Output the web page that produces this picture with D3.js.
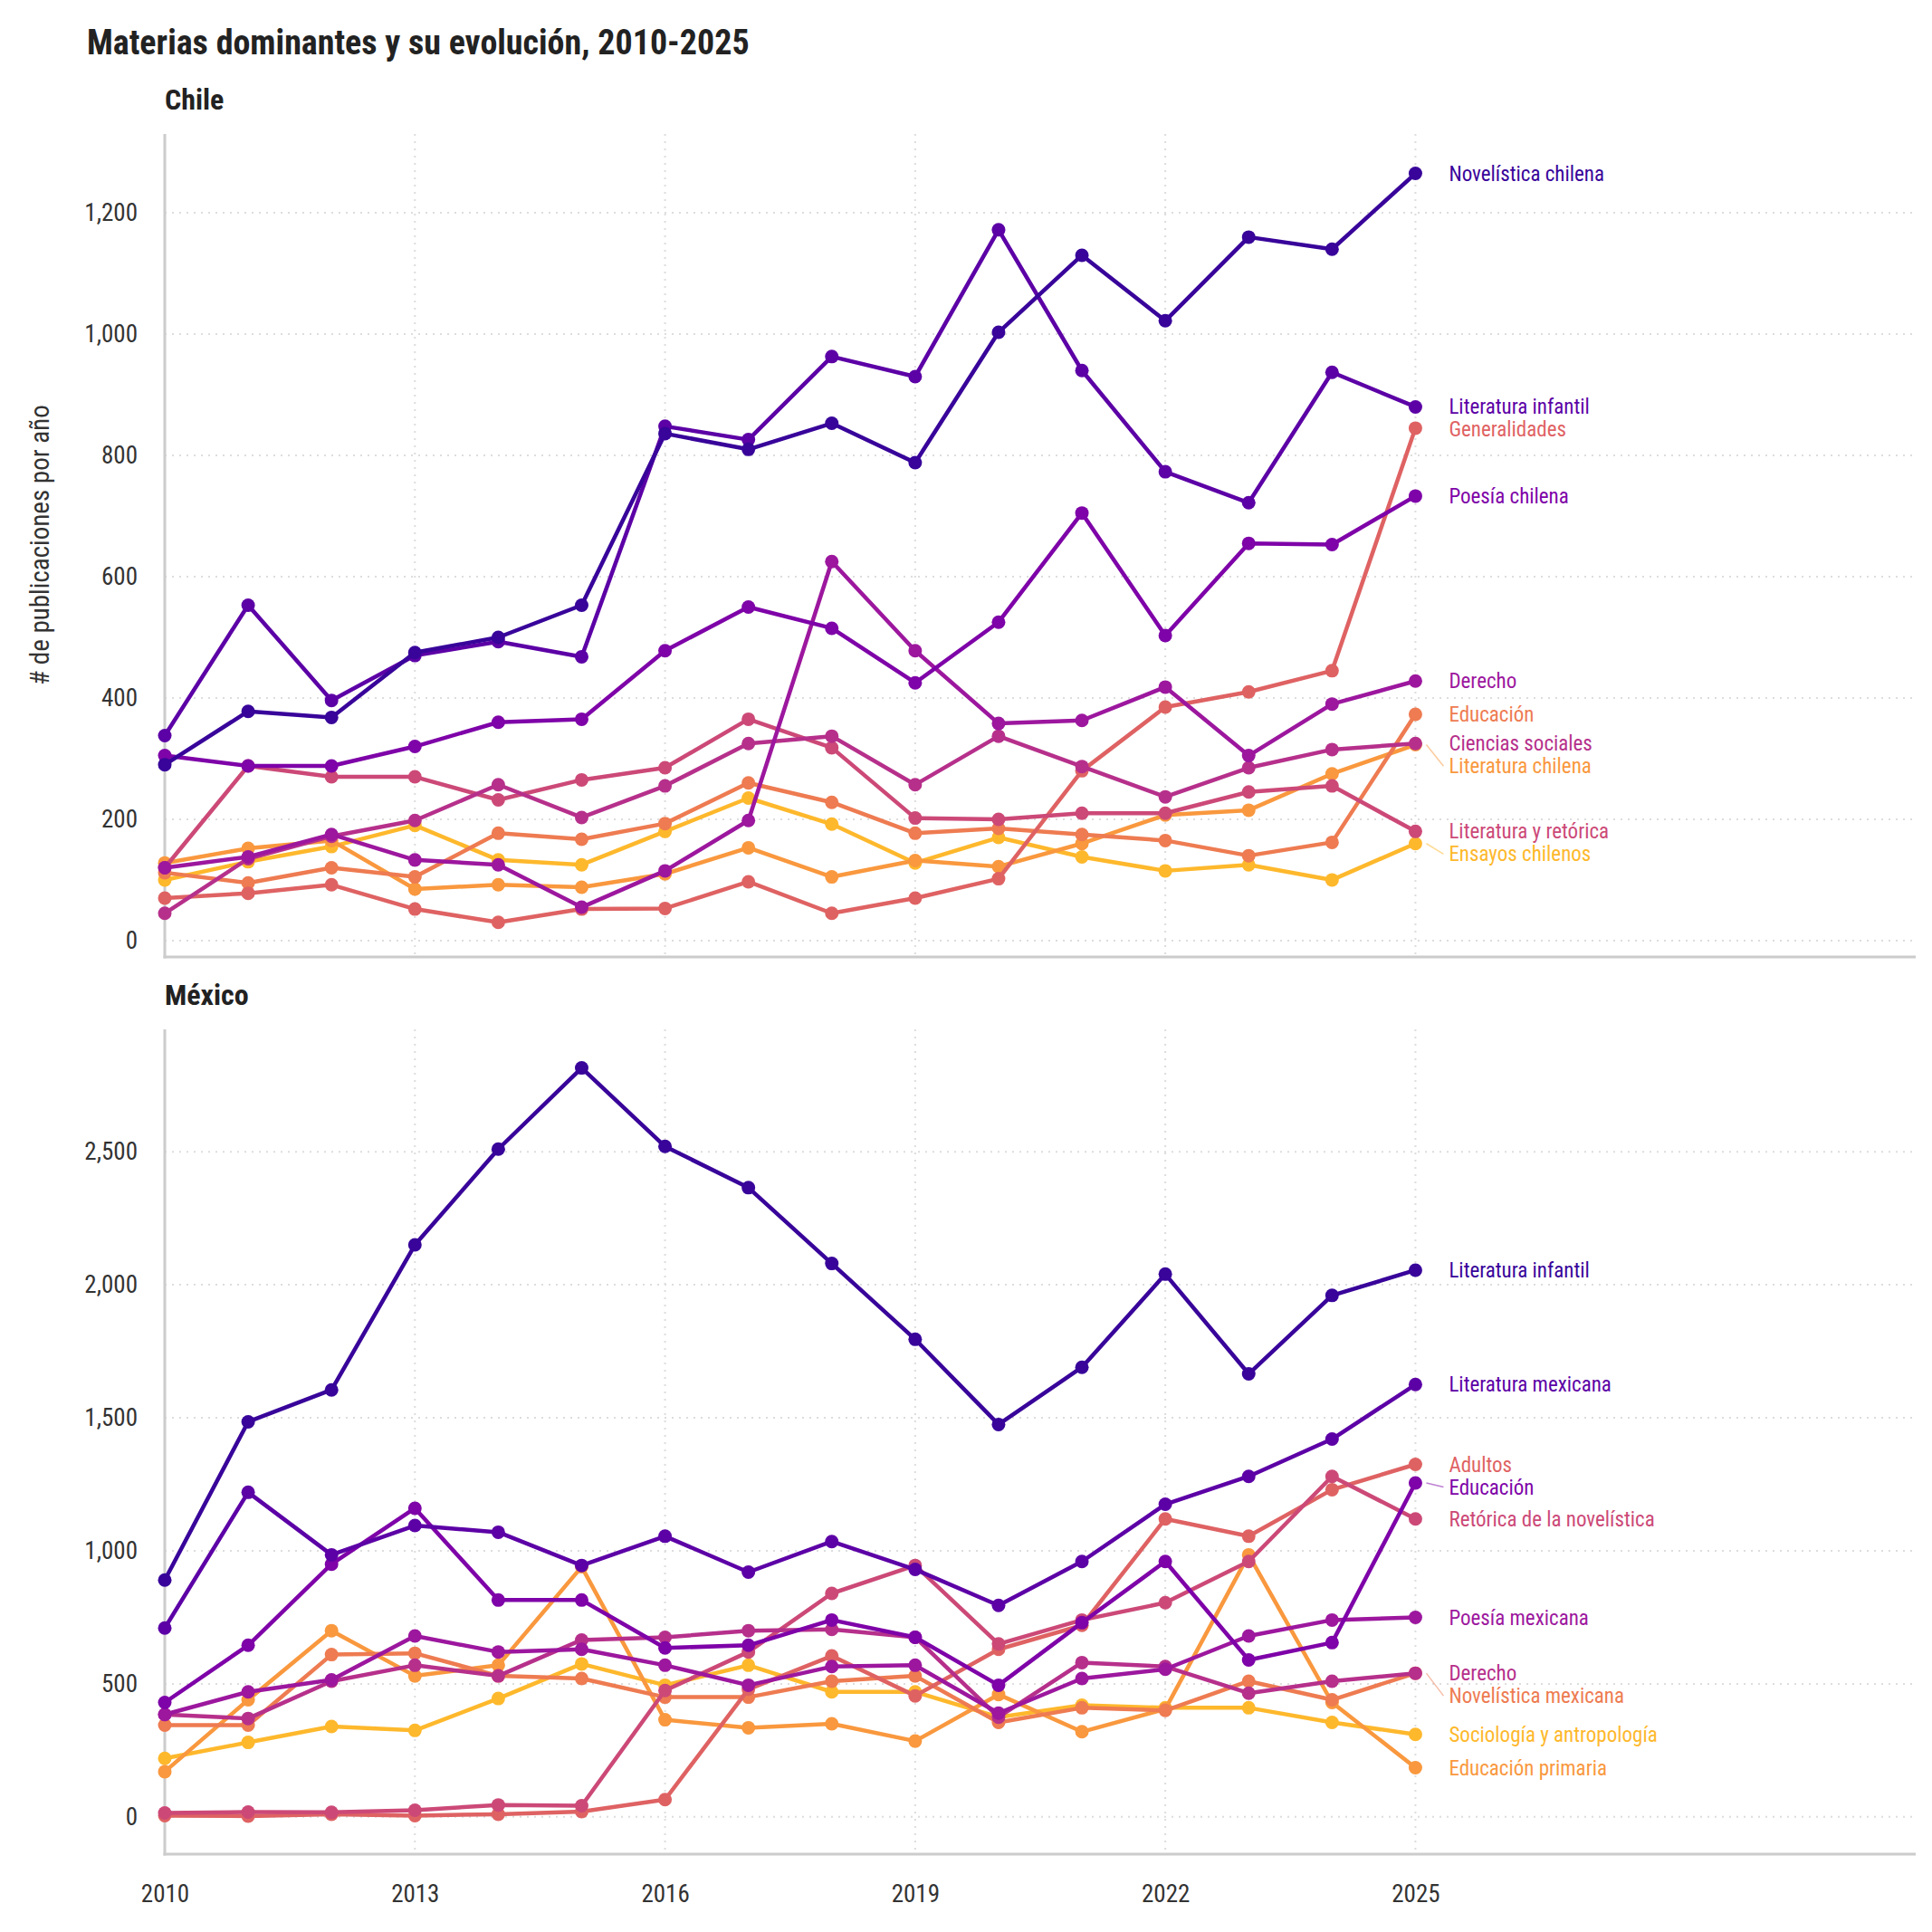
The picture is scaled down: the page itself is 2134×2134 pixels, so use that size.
<!DOCTYPE html>
<html>
<head>
<meta charset="utf-8">
<script src="https://cdn.jsdelivr.net/npm/d3@7"></script>
<style>
  body { margin: 0; background: #fff; }
  text { font-family: "Roboto Condensed", "Liberation Sans Narrow", "DejaVu Sans Condensed", "Roboto", sans-serif; }
</style>
</head>
<body>
<svg id="chart"></svg>
<script>
var W = 2134, H = 2134
var years = d3.range(2010, 2026)

// Chile
var chileNames = ["Novelística chilena", "Literatura infantil", "Poesía chilena", "Derecho", "Ciencias sociales",
  "Literatura y retórica", "Generalidades", "Educación", "Literatura chilena", "Ensayos chilenos"]
var chNovelistica = [290, 378, 368, 475, 500, 553, 836, 810, 853, 788, 1003, 1130, 1022, 1160, 1140, 1265]
var chLitInfantil = [338, 553, 396, 470, 493, 468, 848, 826, 963, 930, 1172, 940, 773, 722, 937, 880]
var chPoesia = [305, 288, 288, 320, 360, 365, 478, 550, 515, 425, 525, 705, 503, 655, 653, 733]
var chDerecho = [120, 138, 175, 133, 125, 55, 115, 198, 625, 478, 358, 363, 418, 305, 390, 428]
var chCiencias = [45, 135, 172, 198, 257, 203, 255, 325, 337, 257, 337, 287, 237, 285, 315, 325]
var chLitRetorica = [120, 288, 270, 270, 232, 265, 285, 365, 318, 202, 200, 210, 210, 245, 255, 180]
var chGeneralidades = [70, 78, 92, 52, 30, 52, 53, 97, 45, 70, 102, 280, 385, 410, 445, 845]
var chEducacion = [112, 95, 120, 105, 177, 167, 193, 260, 228, 177, 185, 175, 165, 140, 162, 373]
var chLitChilena = [128, 152, 165, 85, 92, 88, 110, 153, 105, 132, 122, 160, 207, 215, 275, 323]
var chEnsayos = [100, 130, 155, 190, 133, 125, 180, 235, 192, 128, 170, 138, 115, 125, 100, 160]
var chileValues = [chNovelistica, chLitInfantil, chPoesia, chDerecho, chCiencias, chLitRetorica,
  chGeneralidades, chEducacion, chLitChilena, chEnsayos]

// México
var mexNames = ["Literatura infantil", "Literatura mexicana", "Educación", "Poesía mexicana", "Derecho",
  "Retórica de la novelística", "Adultos", "Novelística mexicana", "Educación primaria", "Sociología y antropología"]
var mxLitInfantil = [890, 1485, 1605, 2150, 2510, 2815, 2520, 2365, 2080, 1795, 1475, 1690, 2040, 1665, 1960, 2055]
var mxLitMexicana = [710, 1220, 985, 1095, 1070, 945, 1055, 920, 1035, 930, 795, 960, 1175, 1280, 1420, 1625]
var mxEducacion = [430, 645, 950, 1160, 815, 815, 635, 645, 740, 675, 495, 730, 960, 590, 655, 1255]
var mxPoesia = [385, 470, 515, 680, 620, 630, 570, 495, 565, 570, 390, 520, 555, 680, 740, 750]
var mxDerecho = [385, 370, 510, 570, 530, 665, 675, 700, 705, 675, 375, 580, 565, 465, 510, 540]
var mxRetorica = [15, 18, 17, 25, 45, 42, 475, 620, 840, 945, 650, 740, 805, 960, 1280, 1120]
var mxAdultos = [5, 3, 10, 5, 10, 20, 65, 480, 605, 455, 630, 720, 1120, 1055, 1230, 1325]
var mxNovelistica = [345, 345, 610, 615, 530, 520, 450, 450, 510, 530, 355, 410, 400, 510, 440, 540]
var mxEdPrimaria = [170, 440, 700, 530, 570, 940, 365, 335, 350, 285, 460, 320, 405, 985, 430, 185]
var mxSociologia = [220, 280, 340, 325, 445, 575, 495, 570, 470, 470, 375, 420, 410, 410, 355, 310]
var mexValues = [mxLitInfantil, mxLitMexicana, mxEducacion, mxPoesia, mxDerecho, mxRetorica,
  mxAdultos, mxNovelistica, mxEdPrimaria, mxSociologia]

var chileTicks = [0, 200, 400, 600, 800, 1000, 1200]
var mexTicks = [0, 500, 1000, 1500, 2000, 2500]
var xTicks = [2010, 2013, 2016, 2019, 2022, 2025]

var color = function(i) { return d3.interpolatePlasma(0.08 + i * 0.085) }

var svg = d3.select("#chart").attr("width", W).attr("height", H)

svg.append("text").attr("x", 96).attr("y", 60)
  .attr("font-size", 38).attr("font-weight", "bold").attr("fill", "#222")
  .text("Materias dominantes y su evolución, 2010-2025")

var x = d3.scaleLinear().domain([2010, 2031]).range([182, 2116])

function panel(title, names, values, top, bottom, domain, ticks, showX) {
  var y = d3.scaleLinear().domain(domain).range([bottom, top])
  var g = svg.append("g")

  g.append("text").attr("x", 182).attr("y", top - 27)
    .attr("font-size", 32).attr("font-weight", "bold").attr("fill", "#222").text(title)

  // grid
  g.selectAll(".gy").data(ticks).enter().append("line")
    .attr("x1", 182).attr("x2", 2116).attr("y1", d => y(d)).attr("y2", d => y(d))
    .attr("stroke", "#ddd").attr("stroke-width", 2).attr("stroke-dasharray", "2,6")
  g.selectAll(".gx").data(xTicks).enter().append("line")
    .attr("x1", d => x(d)).attr("x2", d => x(d)).attr("y1", top).attr("y2", bottom)
    .attr("stroke", "#ddd").attr("stroke-width", 2).attr("stroke-dasharray", "2,6")

  var yAxis = g.append("g").attr("transform", "translate(182,0)")
    .call(d3.axisLeft(y).tickValues(ticks).tickSize(0).tickPadding(30))
  yAxis.select(".domain").remove()
  yAxis.selectAll("text").attr("font-size", 27).attr("fill", "#333")

  if (showX) {
    var xAxis = g.append("g").attr("transform", "translate(0," + bottom + ")")
      .call(d3.axisBottom(x).tickValues(xTicks).tickFormat(d3.format("d")).tickSize(0).tickPadding(34))
    xAxis.select(".domain").remove()
    xAxis.selectAll("text").attr("font-size", 27).attr("fill", "#333")
  }

  g.append("line").attr("x1", 182).attr("x2", 182).attr("y1", top).attr("y2", bottom + 1.5)
    .attr("stroke", "#ccc").attr("stroke-width", 3)
  g.append("line").attr("x1", 180.5).attr("x2", 2116).attr("y1", bottom).attr("y2", bottom)
    .attr("stroke", "#ccc").attr("stroke-width", 3)

  var line = d3.line().x((d, i) => x(years[i])).y(d => y(d))

  // draw lightest first so dark lines sit on top like the reference
  for (var s = values.length - 1; s >= 0; s--) {
    var c = color(s)
    g.append("path").attr("d", line(values[s])).attr("fill", "none")
      .attr("stroke", c).attr("stroke-width", 4.5).attr("stroke-linejoin", "round")
    g.selectAll(".p" + s).data(values[s]).enter().append("circle")
      .attr("cx", (d, i) => x(years[i])).attr("cy", d => y(d)).attr("r", 7.5).attr("fill", c)
  }

  // labels with simple dodge
  var labs = names.map(function(n, i) {
    var v = values[i][values[i].length - 1]
    return { name: n, i: i, y0: y(v), y: y(v) }
  }).sort((a, b) => a.y0 - b.y0)
  var gap = 25
  for (var k = 1; k < labs.length; k++) {
    if (labs[k].y - labs[k - 1].y < gap) labs[k].y = labs[k - 1].y + gap
  }
  var lx = x(2025) + 37
  labs.forEach(function(l) {
    if (Math.abs(l.y - l.y0) > 4) {
      g.append("line").attr("x1", x(2025) + 12).attr("y1", l.y0)
        .attr("x2", lx - 6).attr("y2", l.y)
        .attr("stroke", color(l.i)).attr("stroke-opacity", 0.5).attr("stroke-width", 1.5)
    }
    g.append("text").attr("x", lx).attr("y", l.y).attr("dy", "0.35em")
      .attr("font-size", 23).attr("fill", color(l.i)).text(l.name)
  })
}

panel("Chile", chileNames, chileValues, 148, 1057, [-27, 1330], chileTicks, false)
panel("México", mexNames, mexValues, 1137, 2048, [-140, 2960], mexTicks, true)

svg.append("text")
  .attr("transform", "translate(54,602) rotate(-90)")
  .attr("text-anchor", "middle").attr("font-size", 29).attr("fill", "#333")
  .text("# de publicaciones por año")
</script>
</body>
</html>
